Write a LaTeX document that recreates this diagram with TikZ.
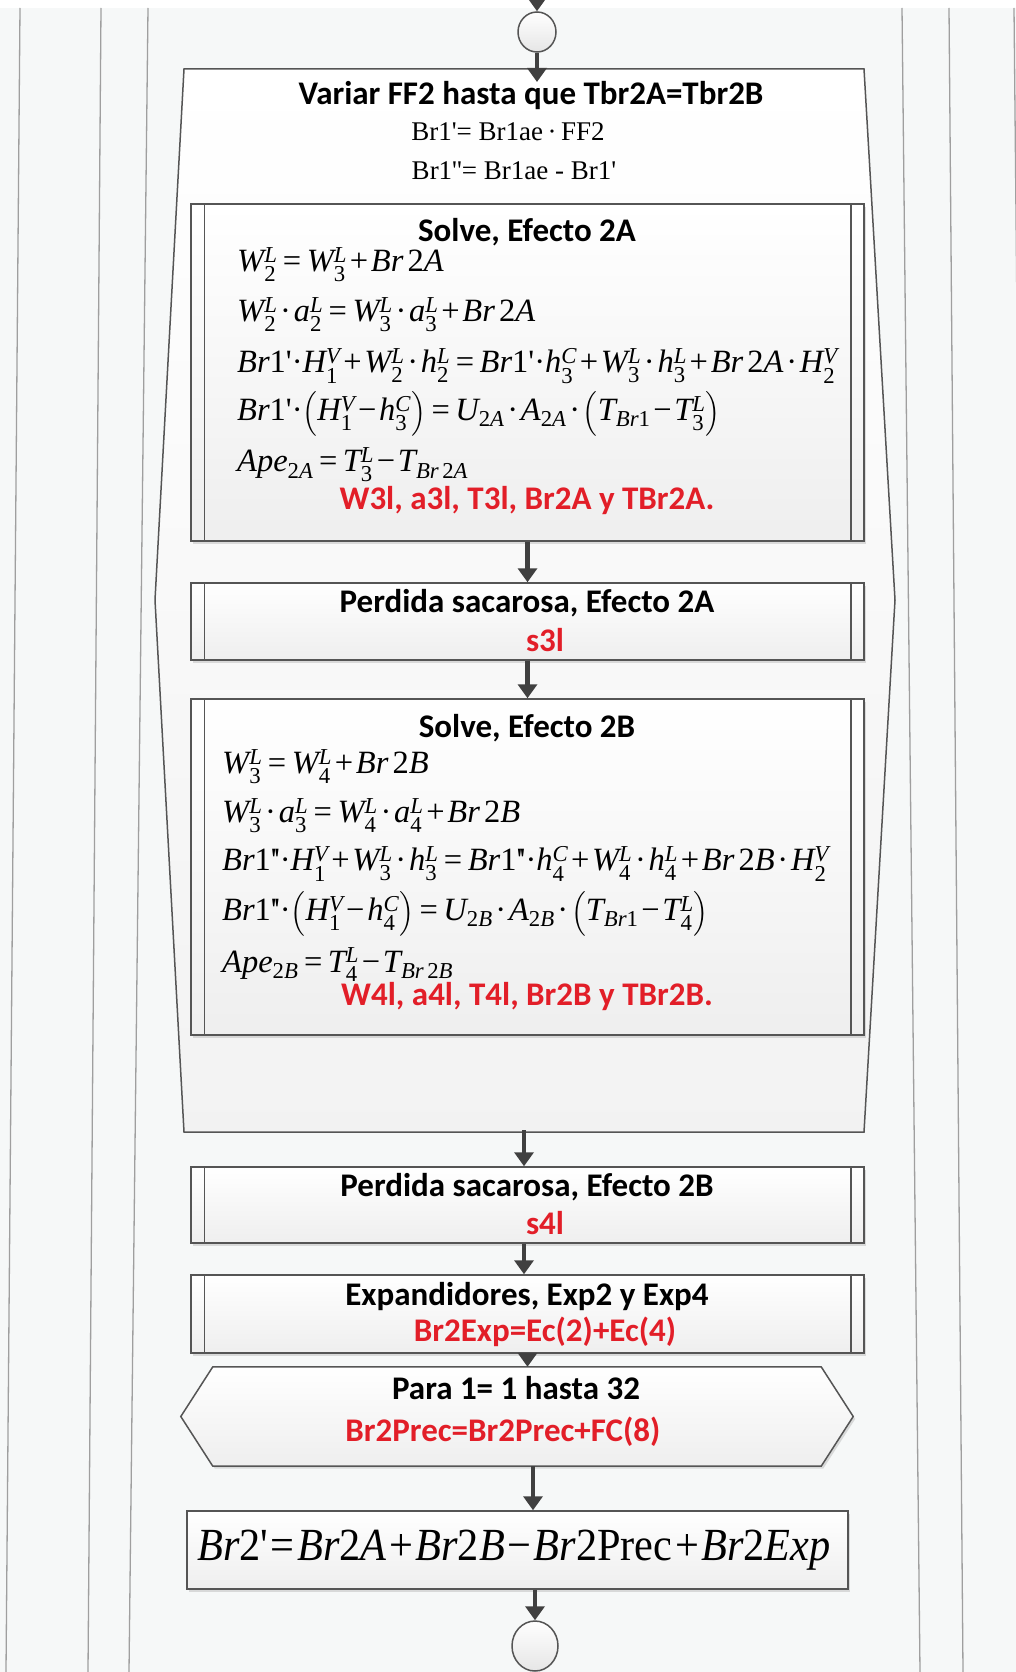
\documentclass[tikz,border=0pt]{standalone}
\usepackage{amsmath}
\usepackage[no-math]{fontspec}
\newfontfamily\carl{Carlito}
\newfontfamily\eqfont[NFSSFamily=eqtimes]{Liberation Serif}
\DeclareSymbolFont{operators}{TU}{eqtimes}{m}{n}
\DeclareSymbolFont{letters}{TU}{eqtimes}{m}{it}
\DeclareSymbolFont{symbols}{OMS}{lmsy}{m}{n}
\DeclareSymbolFont{largesymbols}{OMX}{lmex}{m}{n}
\Umathchardef\tminus="2 "0 "2212
\Umathchardef\tcdot="2 "0 "00B7
\Umathchardef\tdot="0 "0 "00B7
\Umathchardef\tapo="0 "0 "0027
\newcommand{\tapp}{\tapo\mkern-2mu\tapo}
\newcommand{\apo}{\textquotesingle}
\newcommand{\eqsp}[2]{\medmuskip=#1mu\relax\thickmuskip=#2mu\relax}
\usetikzlibrary{arrows.meta,shapes.geometric,shadows}
\definecolor{bgc}{RGB}{246,248,248}
\definecolor{linec}{RGB}{85,85,85}
\definecolor{arrc}{RGB}{64,64,64}
\definecolor{rojo}{RGB}{226,30,40}

\begin{document}
\begin{tikzpicture}[x=1pt, y=1pt,
  flow/.style={-{Triangle[width=19pt,length=14pt]}, line width=4.5pt, draw=arrc},
  procbox/.style={draw=linec, line width=1.5pt, top color=white, bottom color=gray!13,
    minimum width=673pt, inner sep=0pt,
    drop shadow={shadow xshift=2pt, shadow yshift=-2.5pt, opacity=0.25}},
  term/.style={ellipse, draw=linec, line width=1.5pt, top color=white, bottom color=gray!20,
    inner sep=0pt},
  ttl/.style={font=\carl\bfseries\fontsize{33}{40}\selectfont, inner sep=0pt},
  redt/.style={ttl, text=rojo},
  eqn/.style={anchor=west, inner sep=0pt, font=\fontsize{32.5}{38}\selectfont,
    execute at begin node={\eqsp{2}{4}}}]
  \useasboundingbox (0,0) rectangle (1016,-1672);
  \fill[bgc] (0,-8) rectangle (1016,-1672);

  % lineas de fondo
  \begin{scope}
    \clip (0,0) rectangle (1016,-1672);
    \foreach \xa/\xb in {20/6, 101/88, 148/129, 902/920, 949/963, 1014/1030}
      \draw[gray!75, line width=1.3pt] (\xa,-8) -- (\xb,-1672);
  \end{scope}

  % inicio
  \coordinate (top) at (537,2);
  \node[term, minimum width=38pt, minimum height=40pt] (start) at (537,-32) {};
  \draw[flow] (top) -- (start);

  % bucle FF2
  \draw[linec, line width=1.5pt, top color=white, bottom color=gray!10]
    (184,-69) -- (864,-69) -- (895,-600) -- (864,-1132) -- (184,-1132) -- (155,-600) -- cycle;
  \coordinate (loopin) at (537,-82);
  \coordinate (loopout) at (524,-1130);
  \draw[flow] (start) -- (loopin);
  \node[ttl] (ttlloop) at (531,-96) {Variar FF2 hasta que Tbr2A=Tbr2B};
  \node[inner sep=0pt, font=\eqfont\fontsize{27}{30}\selectfont] (ff2a) at (508,-132)
    {Br1\apo= Br1ae\,·\,FF2};
  \node[inner sep=0pt, font=\eqfont\fontsize{27}{30}\selectfont] (ff2b) at (514,-171)
    {Br1\apo\apo= Br1ae - Br1\apo};

  % Efecto 2A
  \node[procbox, minimum height=337pt] (s2a) at (527.5,-372.5) {};
  \node[ttl] (ts2a) at (527,-232) {Solve, Efecto 2A};
  \node[eqn] (a1) at (237,-265) {$W_2^L = W_3^L + Br\,2A$};
  \node[eqn] (a2) at (237,-315) {$W_2^L\tcdot a_2^L = W_3^L\tcdot a_3^L + Br\,2A$};
  \node[eqn] (a3) at (237,-366)
    {$Br1\tapo\tdot H_1^V + W_2^L\tcdot h_2^L = Br1\tapo\tdot h_3^C + W_3^L\tcdot h_3^L + Br\,2A\tcdot H_2^V$};
  \node[eqn] (a4) at (237,-414)
    {$Br1\tapo\tdot\bigl(H_1^V \tminus h_3^C\bigr) = U_{2A}\tcdot A_{2A}\tcdot\bigl(T_{Br1} \tminus T_3^L\bigr)$};
  \node[eqn] (a5) at (237,-465) {$Ape_{2A} = T_3^L \tminus T_{Br\,2A}$};
  \node[redt] (r2a) at (527,-501) {W3l, a3l, T3l, Br2A y TBr2A.};

  \node[procbox, minimum height=77pt] (p2a) at (527.5,-621.5) {};
  \node[ttl] (tp2a) at (527,-603) {Perdida sacarosa, Efecto 2A};
  \node[redt] (rp2a) at (545,-640) {s3l};

  % Efecto 2B
  \node[procbox, minimum height=336pt] (s2b) at (527.5,-867) {};
  \node[ttl] (ts2b) at (527,-728) {Solve, Efecto 2B};
  \node[eqn] (b1) at (222,-767) {$W_3^L = W_4^L + Br\,2B$};
  \node[eqn] (b2) at (222,-816) {$W_3^L\tcdot a_3^L = W_4^L\tcdot a_4^L + Br\,2B$};
  \node[eqn] (b3) at (222,-864)
    {$Br1\tapp\tdot H_1^V + W_3^L\tcdot h_3^L = Br1\tapp\tdot h_4^C + W_4^L\tcdot h_4^L + Br\,2B\tcdot H_2^V$};
  \node[eqn] (b4) at (222,-914)
    {$Br1\tapp\tdot\bigl(H_1^V \tminus h_4^C\bigr) = U_{2B}\tcdot A_{2B}\tcdot\bigl(T_{Br1} \tminus T_4^L\bigr)$};
  \node[eqn] (b5) at (222,-965) {$Ape_{2B} = T_4^L \tminus T_{Br\,2B}$};
  \node[redt] (r2b) at (527,-997) {W4l, a4l, T4l, Br2B y TBr2B.};

  \node[procbox, minimum height=76pt] (p2b) at (527.5,-1205) {};
  \node[ttl] (tp2b) at (527,-1187) {Perdida sacarosa, Efecto 2B};
  \node[redt] (rp2b) at (545,-1223) {s4l};

  % Expandidores
  \node[procbox, minimum height=78pt] (exp) at (527.5,-1314) {};
  \node[ttl] (texp) at (527,-1296) {Expandidores, Exp2 y Exp4};
  \node[redt] (rexp) at (545,-1332) {Br2Exp=Ec(2)+Ec(4)};

  % barras laterales
  \foreach \b in {s2a,p2a,s2b,p2b,exp}
    \draw[linec, line width=1.5pt] ([xshift=14pt]\b.north west) -- ([xshift=14pt]\b.south west)
      ([xshift=-14pt]\b.north east) -- ([xshift=-14pt]\b.south east);

  % Para 1..32
  \node[minimum width=608pt, minimum height=99pt, inner sep=0pt] (para) at (517,-1416.5) {};
  \draw[linec, line width=1.5pt, top color=white, bottom color=gray!13,
    drop shadow={shadow xshift=2pt, shadow yshift=-2.5pt, opacity=0.25}]
    ([xshift=-32pt]para.west) -- (para.north west) -- (para.north east)
    -- ([xshift=32pt]para.east) -- (para.south east) -- (para.south west) -- cycle;
  \node[ttl] (tpara) at (516,-1388) {Para 1= 1 hasta 32};
  \node[redt] (rpara) at (503,-1432) {Br2Prec=Br2Prec+FC(8)};

  % resultado
  \node[draw=linec, line width=1.5pt, top color=white, bottom color=gray!13,
    minimum width=661pt, minimum height=78pt, inner sep=0pt,
    drop shadow={shadow xshift=2pt, shadow yshift=-2.5pt, opacity=0.25}] (res) at (517.5,-1550) {};
  \node[inner sep=0pt, font=\fontsize{46}{52}\selectfont] (tres) at (514,-1550)
    {\scalebox{0.92}[1]{$\eqsp{2}{2}Br2\tapo=Br2A+Br2B\tminus Br2\mathrm{Prec}+Br2Exp$}};

  % fin
  \node[term, minimum width=46pt, minimum height=50pt] (stop) at (535,-1646) {};
  \coordinate (bot) at (535,-1680);

  % flechas
  \draw[flow] (s2a.south) -- (p2a.north);
  \draw[flow] (p2a.south) -- (s2b.north);
  \draw[flow] (loopout) -- (loopout |- p2b.north);
  \draw[flow] ([xshift=-3.5pt]p2b.south) -- ([xshift=-3.5pt]exp.north);
  \draw[flow] (exp.south) -- (exp.south |- para.north);
  \draw[flow] ([xshift=16pt]para.south) -- ([xshift=16pt]para.south |- res.north);
  \draw[flow] ([xshift=17.5pt]res.south) -- (stop.north);
  \draw[linec, line width=1.5pt] (stop.south) -- (bot);
\end{tikzpicture}
\end{document}
